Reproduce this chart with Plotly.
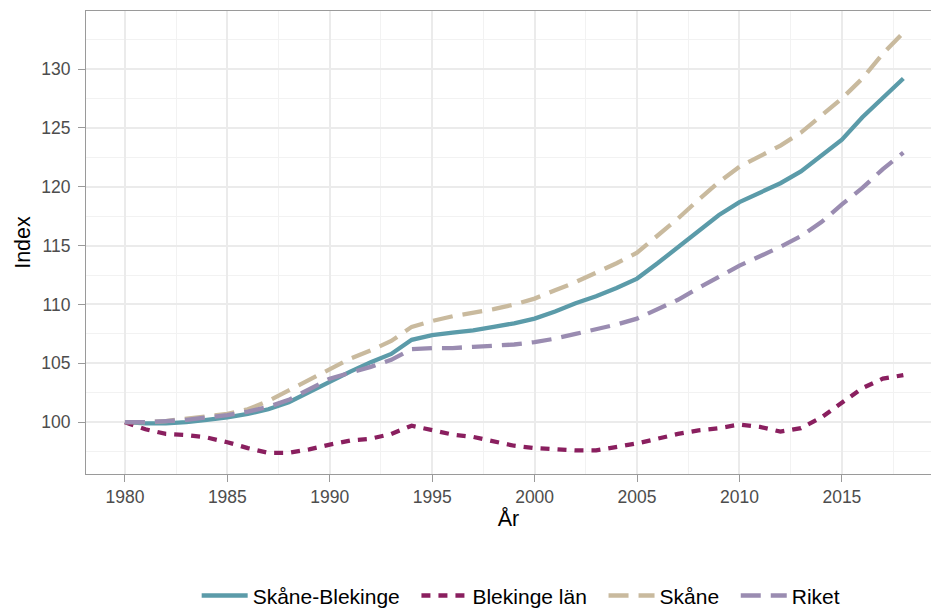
"""Befolkningsindex 1980-2018, Skåne-Blekinge m.fl."""

import plotly.graph_objects as go

years = list(range(1980, 2019))

skane_blekinge = [
    100.0, 99.9, 99.9, 100.0, 100.2, 100.4, 100.7, 101.1, 101.7, 102.6,
    103.5, 104.3, 105.1, 105.8, 107.0, 107.4, 107.6, 107.8, 108.1, 108.4,
    108.8, 109.4, 110.1, 110.7, 111.4, 112.2, 113.5, 114.9, 116.2, 117.6,
    118.7, 119.5, 120.3, 121.3, 122.6, 124.0, 125.9, 127.6, 129.2,
]
blekinge_lan = [
    100.0, 99.4, 99.0, 98.9, 98.7, 98.3, 97.8, 97.4, 97.4, 97.7,
    98.1, 98.45, 98.6, 99.0, 99.7, 99.35, 98.95, 98.75, 98.4, 98.0,
    97.8, 97.7, 97.6, 97.6, 97.9, 98.2, 98.6, 99.0, 99.3, 99.5,
    99.8, 99.6, 99.2, 99.5, 100.4, 101.7, 102.9, 103.7, 104.0,
]
skane = [
    100.0, 100.0, 100.1, 100.3, 100.5, 100.7, 101.1, 101.8, 102.7, 103.6,
    104.5, 105.4, 106.1, 106.9, 108.1, 108.6, 109.0, 109.3, 109.6, 110.0,
    110.5, 111.2, 111.9, 112.7, 113.5, 114.4, 115.8, 117.3, 118.9, 120.4,
    121.7, 122.6, 123.5, 124.6, 126.0, 127.5, 129.2, 131.3, 133.1,
]
riket = [
    100.0, 100.0, 100.1, 100.2, 100.4, 100.6, 100.9, 101.3, 101.9, 102.8,
    103.7, 104.2, 104.7, 105.3, 106.2, 106.3, 106.3, 106.4, 106.5, 106.6,
    106.8, 107.1, 107.5, 107.9, 108.3, 108.8, 109.6, 110.4, 111.4, 112.4,
    113.3, 114.1, 114.9, 115.8, 117.0, 118.5, 119.9, 121.5, 122.9,
]

series = [
    ("Skåne-Blekinge", skane_blekinge, "#5B9BA9", "solid"),
    ("Blekinge län", blekinge_lan, "#8A1F5F", "9px,8px"),
    ("Skåne", skane, "#C9BA9E", "20px,10px"),
    ("Riket", riket, "#9A8CB1", "20px,10px"),
]

FONT = "Liberation Sans, Arial"
PAD = "\u00a0" * 2  # extra room between legend entries, like ggplot

fig = go.Figure()
for i, (name, vals, color, dash) in enumerate(series):
    fig.add_trace(
        go.Scatter(
            x=years,
            y=vals,
            mode="lines",
            name=name + (PAD if i < len(series) - 1 else ""),
            line=dict(color=color, width=4.3, dash=dash),
        )
    )

axis_common = dict(
    showgrid=True,
    gridcolor="#EBEBEB",
    gridwidth=2,
    zeroline=False,
    showline=True,
    linecolor="#9A9A9A",
    linewidth=1,
    ticks="outside",
    ticklen=7,
    tickcolor="#9A9A9A",
    tickfont=dict(family=FONT, size=17.5, color="#4D4D4D"),
)

fig.update_xaxes(
    **axis_common,
    range=[1978.1, 2019.35],
    tickvals=[1980, 1985, 1990, 1995, 2000, 2005, 2010, 2015],
    mirror=True,
    minor=dict(showgrid=True, gridcolor="#F2F2F2", gridwidth=1.2, tick0=1982.5, dtick=5),
    title=dict(text="År", font=dict(family=FONT, size=21.5, color="#000"), standoff=4),
)
fig.update_yaxes(
    **axis_common,
    range=[95.6, 134.93],
    tickvals=[100, 105, 110, 115, 120, 125, 130],
    ticklabelstandoff=4,
    minor=dict(showgrid=True, gridcolor="#F2F2F2", gridwidth=1.2, tick0=97.5, dtick=5),
    title=dict(text="Index", font=dict(family=FONT, size=21.5, color="#000"), standoff=4),
)

fig.update_layout(
    width=931,
    height=608,
    paper_bgcolor="white",
    plot_bgcolor="white",
    margin=dict(l=86, r=0, t=11, b=134),
    font=dict(family=FONT, color="#000"),
    showlegend=True,
    legend=dict(
        orientation="h",
        xref="paper",
        x=0.515,
        xanchor="center",
        yref="container",
        y=0.02,
        yanchor="middle",
        font=dict(size=21, color="#000"),
        itemwidth=46,
        tracegroupgap=0,
    ),
)

fig.write_html(
    "out.html",
    config={"displayModeBar": False},
    post_script="document.body.style.margin='0';",
)
